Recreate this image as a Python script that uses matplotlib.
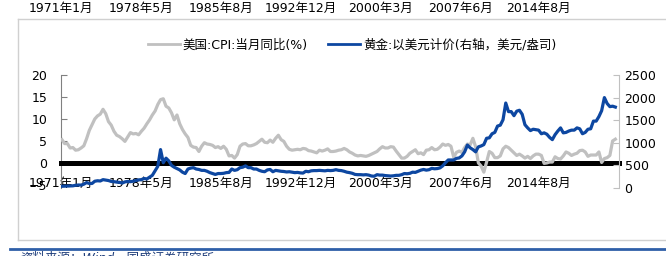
import matplotlib.pyplot as plt
import matplotlib.transforms as mtransforms
from matplotlib.lines import Line2D

plt.rcParams["font.family"] = ["DejaVu Sans", "Noto Sans CJK SC"]

# 季度数据, 1971Q1 起
cpi_yoy = [
    5.3, 4.4, 4.4, 3.4, 3.5, 2.9, 3.0, 3.4, 3.9, 5.5, 7.4, 8.7,
    10.0, 10.7, 11.1, 12.2, 11.2, 9.4, 8.6, 7.2, 6.3, 6.0, 5.5, 4.9,
    5.9, 6.9, 6.6, 6.7, 6.4, 7.2, 7.9, 8.9, 9.8, 10.9, 11.8, 13.3,
    14.4, 14.6, 12.9, 12.5, 11.4, 9.8, 10.9, 8.9, 7.6, 6.6, 5.8, 4.0,
    3.6, 3.5, 2.6, 3.8, 4.6, 4.3, 4.2, 4.0, 3.5, 3.7, 3.3, 3.8,
    3.1, 1.6, 1.7, 1.1, 1.9, 3.8, 4.3, 4.4, 3.9, 3.9, 4.1, 4.4,
    4.9, 5.4, 4.7, 4.6, 5.2, 4.7, 5.6, 6.3, 5.3, 4.9, 3.8, 3.1,
    2.9, 3.0, 3.1, 3.0, 3.3, 3.2, 2.8, 2.7, 2.5, 2.3, 2.9, 2.7,
    2.9, 3.2, 2.6, 2.6, 2.7, 2.9, 3.0, 3.3, 3.0, 2.5, 2.2, 1.8,
    1.6, 1.7, 1.6, 1.5, 1.7, 2.0, 2.3, 2.6, 3.2, 3.7, 3.4, 3.4,
    3.7, 3.6, 2.7, 1.9, 1.1, 1.1, 1.5, 2.2, 2.6, 3.0, 2.1, 2.3,
    1.9, 2.9, 3.0, 3.5, 3.0, 3.1, 3.6, 4.3, 4.0, 4.2, 3.8, 1.3,
    2.4, 2.7, 2.4, 3.5, 4.3, 4.1, 5.6, 3.7, 0.0, -0.7, -2.1, 0.2,
    2.6, 2.2, 1.2, 1.2, 1.6, 3.2, 3.8, 3.5, 2.9, 2.3, 1.7, 2.0,
    1.6, 1.1, 1.5, 1.0, 1.6, 2.0, 2.0, 1.7, -0.1, 0.0, 0.2, 0.2,
    1.4, 1.0, 0.9, 1.6, 2.5, 2.2, 1.7, 2.0, 2.2, 2.8, 2.9, 2.5,
    1.5, 1.8, 1.8, 1.8, 2.5, 0.1, 1.0, 1.2, 1.7, 5.0, 5.4,
]
gold_usd = [
    38, 40, 42, 43, 48, 60, 66, 64, 85, 120, 100, 100,
    150, 160, 155, 185, 175, 165, 145, 140, 130, 125, 110, 135,
    145, 140, 150, 165, 180, 185, 210, 200, 240, 280, 380, 480,
    850, 560, 660, 600, 500, 460, 430, 400, 350, 320, 420, 440,
    450, 420, 410, 390, 390, 370, 340, 320, 300, 320, 320, 325,
    340, 345, 420, 390, 405, 450, 460, 490, 450, 450, 420, 420,
    390, 370, 360, 400, 410, 360, 390, 380, 370, 365, 355, 360,
    350, 340, 345, 335, 330, 370, 360, 380, 385, 385, 390, 385,
    380, 390, 385, 390, 405, 390, 385, 370, 350, 340, 325, 300,
    295, 295, 290, 295, 285, 265, 260, 295, 285, 285, 275, 270,
    265, 270, 280, 280, 295, 320, 315, 325, 350, 345, 370, 395,
    410, 395, 405, 435, 425, 430, 445, 490, 560, 620, 620, 620,
    655, 665, 710, 800, 950, 890, 850, 800, 910, 930, 960, 1100,
    1110, 1200, 1230, 1370, 1390, 1510, 1880, 1690, 1690, 1600, 1700, 1720,
    1630, 1400, 1330, 1270, 1300, 1290, 1280, 1200, 1220, 1190, 1120, 1070,
    1180, 1260, 1330, 1220, 1230, 1260, 1280, 1280, 1330, 1310, 1200, 1230,
    1300, 1310, 1480, 1480, 1580, 1710, 2000, 1870, 1800, 1810, 1790,
]
tick_months = [0, 88, 175, 263, 350, 437, 523]
tick_labels = ["1971年1月", "1978年5月", "1985年8月", "1992年12月",
               "2000年3月", "2007年6月", "2014年8月"]

x = [1 + 3 * i for i in range(len(cpi_yoy))]

fig = plt.figure(figsize=(6.66, 2.56), dpi=100)
W, H = 666, 256
ax = fig.add_axes([61 / W, 1 - 188 / H, (619 - 61) / W, (188 - 75) / H])
ax2 = ax.twinx()

ax.plot(x, cpi_yoy, color="#c0c0c0", lw=2.3, zorder=3)
ax2.plot(x, gold_usd, color="#0d47a1", lw=2.3)

ax.set_xlim(0, 611)
ax.set_ylim(-5.7, 20)
ax.set_yticks([-5, 0, 5, 10, 15, 20])
ax2.set_ylim(0, 2500)
ax2.set_yticks([0, 500, 1000, 1500, 2000, 2500])

ax.set_xticks(tick_months)
ax.set_xticklabels(tick_labels)
ax.spines["bottom"].set_position(("data", 0))
ax.spines["bottom"].set_linewidth(3.6)
ax.spines["bottom"].set_color("black")
ax.spines["top"].set_visible(False)
ax.spines["right"].set_visible(False)
ax.spines["left"].set_color("#808080")
ax.tick_params(axis="x", length=0, pad=10, labelsize=9)
ax.tick_params(axis="y", direction="in", length=4, color="#808080",
               pad=10, labelsize=9)

for s in ["top", "bottom", "left"]:
    ax2.spines[s].set_visible(False)
ax2.spines["right"].set_color("#c0c0c0")
ax2.tick_params(axis="y", direction="in", length=4, color="#c0c0c0",
                pad=4, labelsize=9)

# 图例
handles = [Line2D([], [], color="#c0c0c0", lw=2),
           Line2D([], [], color="#0d47a1", lw=2)]
fig.legend(handles, ["美国:CPI:当月同比(%)", "黄金:以美元计价(右轴，美元/盎司)"],
           loc="center", bbox_to_anchor=(352 / W, 1 - 45 / H), ncol=2,
           frameon=False, fontsize=9, handlelength=2.6, handletextpad=0.2,
           columnspacing=1.6)

# 上方残留的横轴标签与边框
trans = mtransforms.blended_transform_factory(ax.transData, fig.transFigure)
for m, lab in zip(tick_months, tick_labels):
    fig.text(m, 1 - 8 / H, lab, transform=trans, ha="center", va="center",
             fontsize=9)
fig.add_artist(Line2D([18 / W, 1], [1 - 19 / H, 1 - 19 / H], color="#d0d0d0", lw=1))
fig.add_artist(Line2D([18 / W, 18 / W], [1 - 19 / H, 1 - 240 / H], color="#d0d0d0", lw=1))
fig.add_artist(Line2D([18 / W, 1], [1 - 240 / H, 1 - 240 / H], color="#d0d0d0", lw=1))
fig.add_artist(Line2D([10 / W, 1], [1 - 249 / H, 1 - 249 / H], color="#2f5fa8", lw=2))
fig.text(20 / W, 1 - 252 / H, "资料来源：Wind，国盛证券研究所", ha="left", va="top",
         fontsize=9, color="#1f3d7a", style="italic")

fig.savefig("out.png", dpi=100)
